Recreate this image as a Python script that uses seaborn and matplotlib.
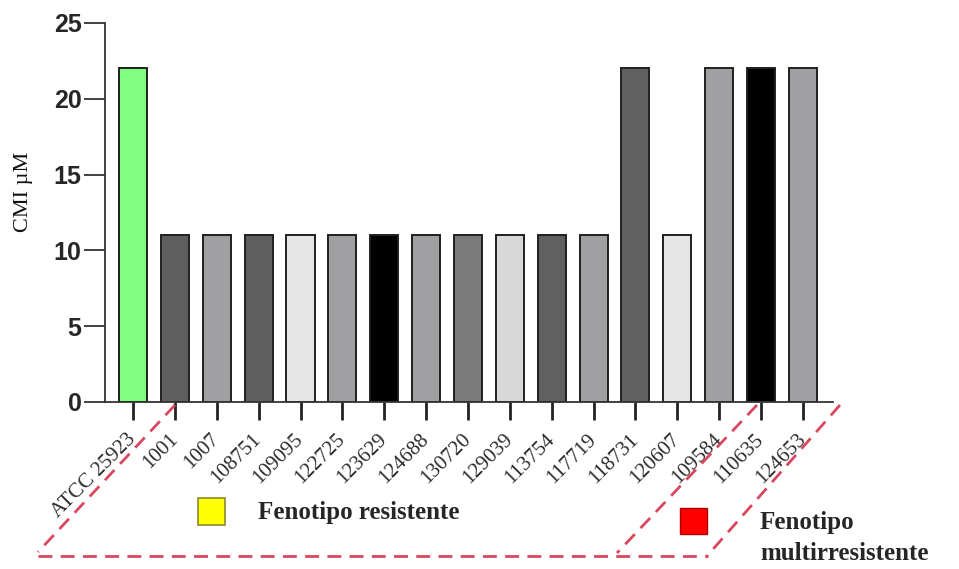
import matplotlib
matplotlib.use("Agg")
import matplotlib.pyplot as plt
import seaborn as sns
from matplotlib.lines import Line2D
from matplotlib.patches import Rectangle

# data
cepas = ["ATCC 25923", "1001", "1007", "108751", "109095", "122725", "123629",
         "124688", "130720", "129039", "113754", "117719", "118731", "120607",
         "109584", "110635", "124653"]
cmi = [22, 11, 11, 11, 11, 11, 11, 11, 11, 11, 11, 11, 22, 11, 22, 22, 22]
colores = ["#80ff80", "#5f5f5f", "#a0a0a3", "#5f5f5f", "#e6e6e6", "#a0a0a3",
           "#000000", "#a0a0a3", "#7a7a7a", "#d8d8d8", "#606060", "#a0a0a3",
           "#606060", "#e6e6e6", "#a0a0a3", "#000000", "#a0a0a3"]
y_ticks = [0, 5, 10, 15, 20, 25]

sns.set_style("ticks")
plt.rcParams["font.family"] = ["Liberation Serif", "DejaVu Serif"]

fig = plt.figure(figsize=(9.59, 5.69), dpi=100)
ax = fig.add_axes([0.1095, 0.2935, 0.7591, 0.6661])

sns.barplot(x=cepas, y=cmi, hue=cepas, palette=colores, legend=False,
            width=0.67, edgecolor="#202020", linewidth=1.4, saturation=1, ax=ax)

ax.set_ylim(0, 25)
ax.set_xlim(-0.67, 16.72)
ax.set_yticks(y_ticks)
ax.set_yticklabels([str(t) for t in y_ticks], family="Liberation Sans",
                   fontweight="bold", fontsize=18)
ax.set_xticks(range(len(cepas)))
ax.set_xticklabels(cepas, rotation=45, ha="right", va="center",
                   rotation_mode="anchor", fontsize=15, color="#2a2a2a")
ax.set_ylabel("CMI µM", fontsize=16, color="#111111")
ax.yaxis.set_label_coords(-0.099, 0.554)
ax.tick_params(axis="y", length=15, width=1.3, pad=2, color="#333333")
ax.tick_params(axis="x", length=13, width=2, pad=12, color="#222222")
sns.despine(ax=ax)
for s in ["left", "bottom"]:
    ax.spines[s].set_linewidth(1.3)
    ax.spines[s].set_color("#333333")

# dashed red outlines, figure pixel coordinates
W, H = 959, 569
roja = "#d9475f"
tramos = [[(175, 405), (38, 552)],
          [(38, 556), (708, 556)],
          [(757, 405), (617, 553)],
          [(840, 405), (707, 556)]]
for (x0, y0), (x1, y1) in tramos:
    fig.add_artist(Line2D([x0 / W, x1 / W], [1 - y0 / H, 1 - y1 / H],
                          color=roja, lw=2, linestyle=(0, (5, 3))))

# legend boxes
fig.add_artist(Rectangle((198 / W, 1 - 525 / H), 27 / W, 27 / H,
                         facecolor="#ffff00", edgecolor="#8a8a30", lw=1.2))
fig.text(258 / W, 1 - 512 / H, "Fenotipo resistente", fontsize=18,
         fontweight="bold", va="center", ha="left")
fig.add_artist(Rectangle((680 / W, 1 - 534 / H), 27 / W, 26 / H,
                         facecolor="#ff0000", edgecolor="#b00000", lw=1))
fig.text(760 / W, 1 - 538 / H, "Fenotipo\nmultirresistente", fontsize=18,
         fontweight="bold", va="center", ha="left", linespacing=1.5)

fig.savefig("out.png", dpi=100)
